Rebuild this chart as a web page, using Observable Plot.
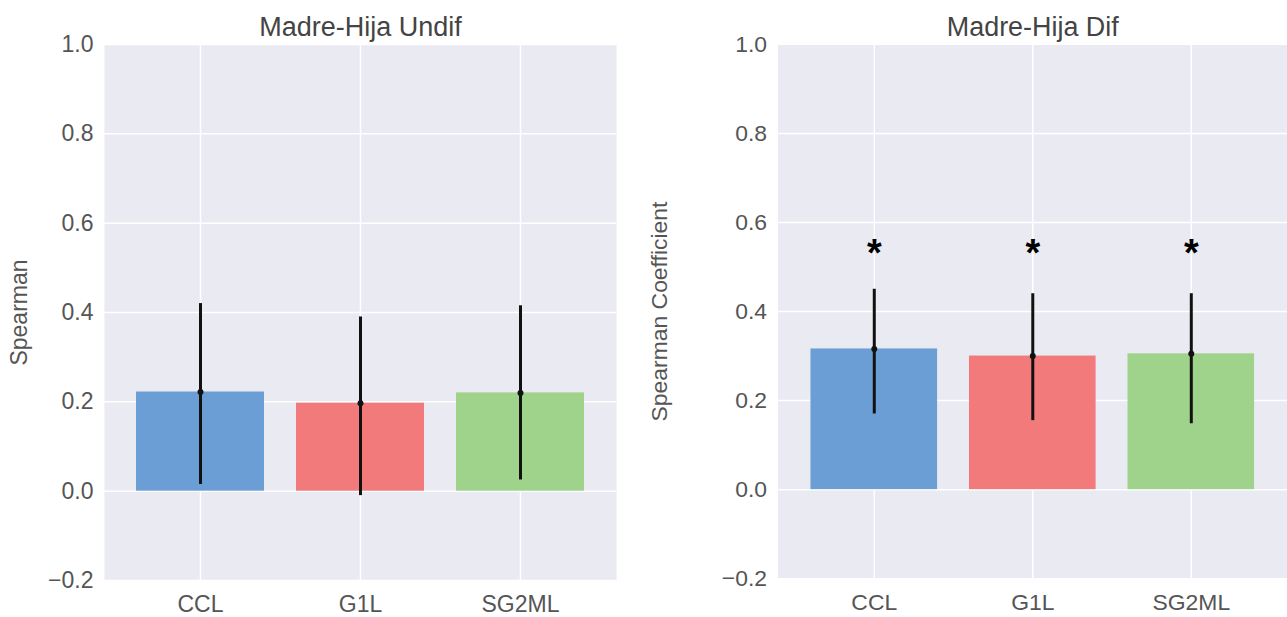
<!DOCTYPE html>
<html><head><meta charset="utf-8">
<script src="https://cdn.jsdelivr.net/npm/d3@7"></script>
<script src="https://cdn.jsdelivr.net/npm/@observablehq/plot@0.6"></script>
<style>
html,body{margin:0;padding:0;background:#fff;overflow:hidden;}
#wrap{position:relative;width:1287px;height:617px;overflow:hidden;background:#fff;}
#left{position:absolute;left:0;top:0;}
#right{position:absolute;left:640px;top:0;}
</style></head><body>
<div id="wrap"><div id="left"></div><div id="right"></div></div>
<script>
const categories = ["CCL", "G1L", "SG2ML"];
const barColors = ["#6a9ed5", "#f27a7b", "#9fd28b"];
const undifMean = [0.222, 0.197, 0.220];
const undifLow = [0.015, -0.01, 0.025];
const undifHigh = [0.42, 0.39, 0.415];
const difMean = [0.316, 0.300, 0.305];
const difLow = [0.17, 0.155, 0.148];
const difHigh = [0.45, 0.44, 0.44];
const difStars = ["*", "*", "*"];
const starY = [0.53, 0.53, 0.53];
const yTicks = [-0.2, 0, 0.2, 0.4, 0.6, 0.8, 1.0];
const titles = ["Madre-Hija Undif", "Madre-Hija Dif"];
const yLabels = ["Spearman", "Spearman Coefficient"];

const FONT = "'Liberation Sans', Arial, Helvetica, sans-serif";

function rows(mean, low, high) {
  return categories.map((c, i) => ({cat: c, v: mean[i], lo: low[i], hi: high[i]}));
}

function panel({data, title, yLabel, width, marginLeft, marginRight, stars}) {
  const marks = [
    Plot.frame({fill: "#eaeaf2", stroke: null}),
    Plot.ruleY(yTicks, {stroke: "#ffffff", strokeWidth: 1.5}),
    Plot.ruleX(categories, {stroke: "#ffffff", strokeWidth: 1.5}),
    Plot.barY(data, {x: "cat", y: "v", fill: "cat"}),
    Plot.ruleX(data, {x: "cat", y1: "lo", y2: "hi", stroke: "#111", strokeWidth: 3}),
    Plot.dot(data, {x: "cat", y: "v", r: 3, fill: "#111", stroke: null}),
    Plot.text([title], {frameAnchor: "top", dy: -17, fontSize: 27, fill: "#444", lineAnchor: "middle"})
  ];
  if (stars) {
    marks.push(Plot.text(categories, {x: d => d, y: (d, i) => starY[i], text: (d, i) => stars[i],
      fontSize: 38, fontWeight: "bold", fill: "#000", lineAnchor: "middle"}));
  }
  return Plot.plot({
    width, height: 617,
    marginLeft, marginRight, marginTop: 44, marginBottom: 37,
    style: {fontFamily: FONT, fontSize: "23px", color: "#555", background: "transparent", overflow: "visible"},
    x: {domain: categories, padding: 0.2, tickSize: 0, tickPadding: 15, label: null},
    y: {domain: [-0.2, 1.0], ticks: yTicks, tickFormat: d3.format(".1f"), tickSize: 0, tickPadding: 11,
        label: yLabel, labelAnchor: "center", labelOffset: marginLeft - 10, labelArrow: "none"},
    color: {domain: categories, range: barColors},
    marks
  });
}

document.getElementById("left").appendChild(panel({
  data: rows(undifMean, undifLow, undifHigh), title: titles[0], yLabel: yLabels[0],
  width: 640, marginLeft: 104, marginRight: 24, stars: null
}));
document.getElementById("right").appendChild(panel({
  data: rows(difMean, difLow, difHigh), title: titles[1], yLabel: yLabels[1],
  width: 649, marginLeft: 138, marginRight: 0, stars: difStars
}));
</script>
</body></html>
